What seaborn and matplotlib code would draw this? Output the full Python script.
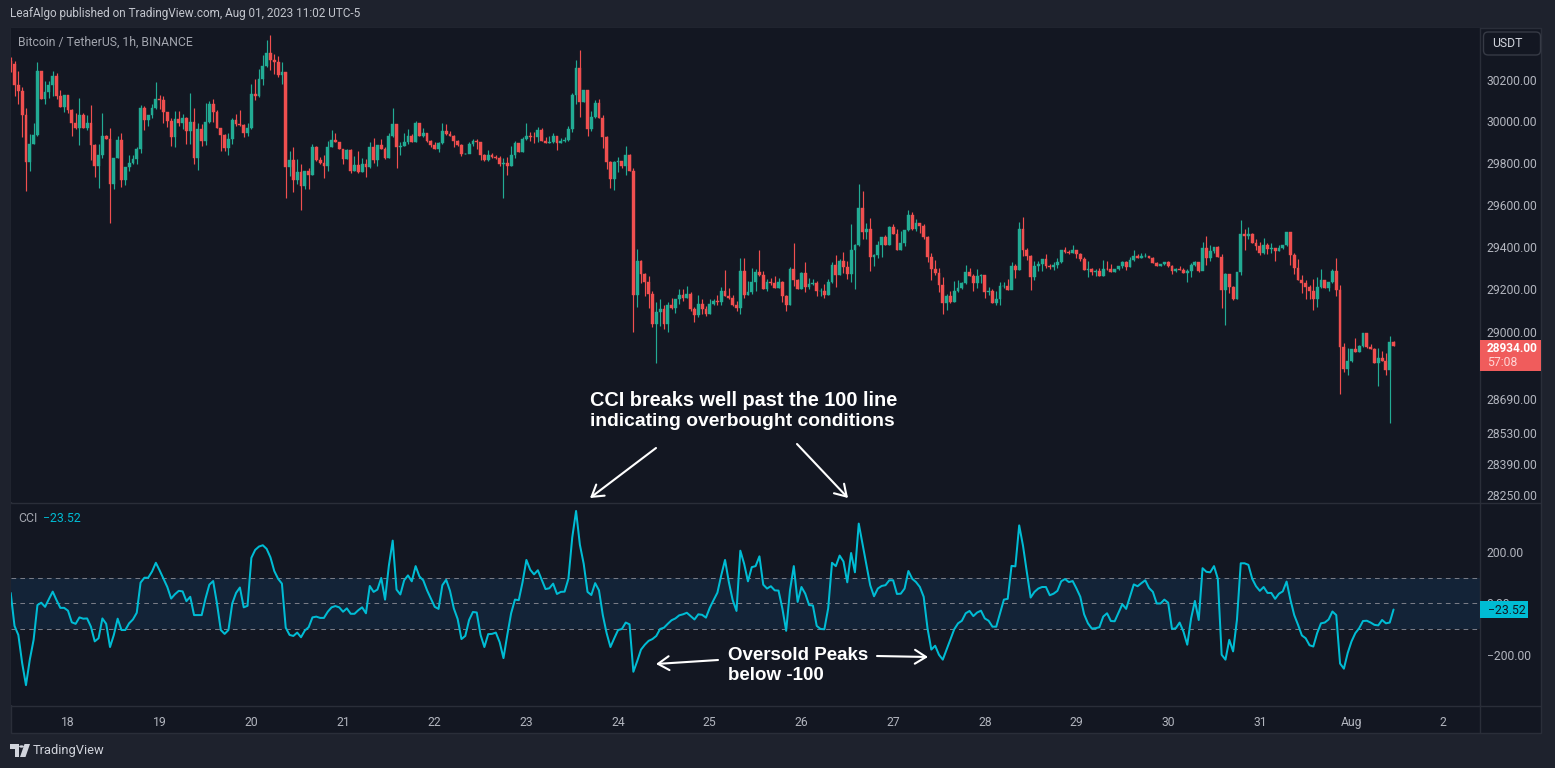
import numpy as np
import pandas as pd
import seaborn as sns
import matplotlib
matplotlib.use("Agg")
import matplotlib.pyplot as plt
from matplotlib.patches import Rectangle, FancyBboxPatch, Polygon, Circle
from matplotlib.ticker import NullLocator, FixedLocator, FixedFormatter

first_open = 30294
close = [30280,30174,30147,30029,29804,29890,29933,30246,30107,30143,30174,30222,30123,30071,30126,30053,29991,29967,30029,29967,
29994,29886,29785,29837,29927,29914,29697,29825,29910,29718,29782,29801,29820,29866,30063,30007,30029,30063,30107,30102,
30045,30002,29925,30010,29991,30018,29954,29999,29822,29962,29906,29999,30082,30045,29967,29935,29870,29914,30005,29986,
29984,29946,29967,30131,30123,30206,30270,30332,30296,30287,30224,30238,29780,29812,29718,29758,29689,29761,29742,29874,
29814,29798,29783,29878,29909,29901,29866,29817,29861,29761,29788,29756,29796,29780,29877,29812,29885,29866,29825,29927,
29986,29877,29882,29902,29927,29902,29991,29927,29943,29906,29885,29869,29894,29954,29938,29930,29906,29886,29841,29841,
29890,29906,29902,29838,29814,29838,29829,29825,29793,
29799,29785,29837,29895,29852,29914,29931,29926,29923,29956,29904,29895,29899,29928,29895,29904,29909,29961,30128,30257,
30095,30152,29961,30023,30090,30014,29923,29804,29723,29804,29809,29785,29837,29761,29175,29333,29271,29233,29180,29037,
29094,29109,29037,29128,29113,29152,29171,29161,29180,29109,29080,29133,29109,29085,29133,29147,29142,29194,29166,29161,
29128,29113,29285,29175,29185,29233,29280,29266,29199,29233,29228,29204,29233,29166,29128,29294,29242,29199,29275,29209,
29223,29228,29190,29194,29175,29233,29314,29266,29333,29304,29271,29385,29409,29585,29471,29485,29352,29361,29409,29447,
29409,29494,29461,29385,29418,29480,29552,29485,29514,29499,29447,29352,29294,29275,29218,29137,29166,29142,29190,29204,
29228,29280,29261,29228,29261,29266,29185,29194,29137,29156,29214,
29216,29198,29308,29291,29486,29385,29357,29257,29308,29318,29341,29308,29305,29315,29327,29383,29374,29369,29383,29365,
29341,29290,29294,29280,29288,29262,29294,29293,29280,29294,29308,29327,29304,29337,29355,29346,29355,29355,29346,29322,
29308,29318,29327,29308,29285,29296,29290,29276,29288,29313,29327,29285,29393,29346,29379,29397,29351,29196,29271,29210,
29154,29280,29463,29449,29463,29416,29402,29369,29411,29388,29393,29379,29393,29407,29472,29360,29299,29243,29229,29210,
29191,29154,29210,29243,29205,29234,29285,29196,28929,28826,28864,28920,28906,28934,28995,28929,28920,28854,28878,28864,
28822,28953,28934]
high = [30312,30291,30246,30166,30066,29938,29994,30288,30246,30195,30195,30243,30232,30152,30126,30126,30058,30042,30115,30042,
30029,30078,29890,29890,30039,29933,29970,29825,29930,29946,29782,29837,29837,29874,30078,30074,30029,30082,30192,30126,
30123,30047,30018,30050,30050,30034,30023,30135,30063,29994,29986,30087,30098,30107,30055,29970,29938,29946,30018,30034,
30053,29989,29994,30182,30203,30254,30323,30396,30420,30328,30315,30288,30238,29857,29874,29817,29796,29761,29777,29893,
29882,29829,29837,29906,29957,29946,29902,29869,29866,29866,29833,29857,29825,29817,29902,29919,29885,29914,29874,29943,
30066,29986,29898,29946,29962,29938,30002,29991,29970,29943,29909,29898,29898,29994,29986,29954,29933,29909,29890,29849,
29898,29917,29914,29902,29841,29862,29846,29837,29833,
29823,29828,29883,29903,29895,29926,29990,29947,29947,29971,29966,29922,29931,29942,29931,29918,29923,29979,30137,30299,
30347,30152,30152,30052,30104,30109,30030,29928,29809,29809,29828,29809,29880,29842,29775,29390,29337,29275,29261,29193,
29142,29156,29128,29142,29161,29156,29199,29199,29214,29185,29118,29175,29152,29123,29152,29152,29171,29209,29290,29204,
29171,29147,29347,29347,29237,29299,29295,29385,29285,29247,29252,29261,29252,29237,29175,29304,29418,29247,29280,29328,
29252,29247,29237,29204,29223,29247,29328,29361,29342,29375,29333,29509,29414,29699,29666,29514,29537,29366,29428,29447,
29456,29499,29509,29485,29475,29480,29575,29566,29533,29514,29509,29452,29371,29337,29299,29256,29180,29194,29237,29242,
29233,29314,29299,29271,29295,29271,29266,29209,29199,29190,29235,
29232,29248,29326,29318,29519,29541,29396,29360,29332,29332,29341,29365,29318,29326,29346,29383,29397,29383,29407,29383,
29372,29351,29332,29299,29294,29299,29337,29332,29318,29294,29308,29332,29333,29354,29383,29365,29369,29369,29355,29351,
29327,29318,29327,29332,29313,29302,29310,29302,29294,29322,29332,29327,29425,29449,29407,29397,29402,29365,29276,29271,
29215,29280,29528,29486,29496,29466,29435,29421,29444,29419,29416,29393,29411,29407,29472,29472,29369,29341,29266,29243,
29220,29248,29257,29294,29243,29234,29294,29346,29220,28948,28925,28920,28971,28939,28995,28995,28943,28925,28925,28911,
28901,28981,28957]
low = [30238,30123,30082,29925,29665,29761,29890,29930,30107,30082,30115,30123,30107,30071,30045,30042,29930,29962,29886,29967,
29957,29814,29732,29681,29825,29914,29512,29676,29825,29685,29692,29761,29793,29793,29849,29959,29978,30018,30058,30058,
29994,29973,29882,29874,29978,29962,29890,29890,29796,29766,29882,29885,29994,29997,29967,29857,29857,29837,29890,29978,
29978,29922,29930,29962,30102,30119,30176,30264,30251,30227,30214,30179,29632,29737,29660,29697,29573,29676,29673,29742,
29809,29793,29729,29761,29877,29898,29866,29793,29817,29753,29761,29753,29756,29732,29777,29801,29785,29866,29817,29825,
29922,29777,29837,29882,29890,29902,29902,29927,29922,29902,29874,29866,29853,29890,29933,29927,29878,29882,29833,29841,
29846,29882,29866,29814,29809,29809,29821,29817,29785,
29633,29744,29785,29823,29852,29852,29909,29906,29895,29899,29904,29895,29895,29895,29863,29895,29899,29904,29947,30085,
30023,30095,29928,29953,30018,30014,29871,29771,29680,29671,29756,29776,29742,29761,28999,29118,29228,29166,29113,29023,
28856,29028,29013,28999,29109,29090,29133,29147,29161,29099,29047,29071,29085,29075,29085,29128,29128,29128,29166,29152,
29123,29099,29085,29161,29171,29180,29190,29261,29199,29190,29218,29204,29204,29142,29099,29128,29214,29199,29199,29185,
29199,29218,29166,29166,29161,29171,29228,29209,29266,29275,29247,29233,29199,29404,29437,29437,29285,29309,29347,29352,
29409,29409,29461,29385,29385,29404,29475,29480,29475,29466,29437,29328,29242,29266,29185,29085,29104,29137,29142,29185,
29199,29223,29261,29190,29204,29228,29161,29171,29137,29128,29126,
29205,29198,29201,29252,29291,29357,29338,29198,29243,29287,29287,29302,29294,29290,29299,29322,29369,29365,29369,29346,
29332,29290,29257,29266,29262,29262,29262,29290,29280,29280,29290,29299,29290,29304,29332,29346,29346,29351,29346,29322,
29308,29308,29313,29304,29271,29282,29290,29276,29234,29257,29308,29280,29313,29313,29332,29369,29351,29112,29032,29182,
29149,29154,29266,29385,29435,29416,29385,29360,29365,29365,29369,29332,29379,29388,29402,29313,29271,29243,29182,29154,
29154,29103,29117,29205,29205,29191,29229,29168,28714,28812,28798,28859,28906,28906,28929,28925,28920,28854,28751,28864,
28798,28578,28934]
cci = [41,-87,-122,-231,-317,-218,-141,-6,3,-13,17,46,13,-17,-17,-28,-73,-79,-54,-59,
-58,-90,-147,-135,-58,-79,-169,-122,-59,-103,-103,-77,-62,-36,81,100,100,124,158,128,
96,64,19,36,49,47,9,26,-45,-45,-45,19,73,87,0,-103,-118,-103,0,41,
62,-15,-9,177,208,221,226,212,179,126,96,77,-94,-122,-126,-113,-131,-105,-92,-54,
-51,-56,-56,-32,-15,-10,-15,-32,-19,-40,-40,-26,-15,-38,68,45,54,99,15,147,
244,54,35,90,109,86,145,105,90,51,19,-13,-21,71,92,49,-19,-60,-138,-126,
-64,-33,-35,-122,-169,-119,-118,-113,-150,
-212,-122,-38,15,13,83,169,131,113,129,92,56,59,77,37,45,46,96,256,359,
228,154,45,33,79,51,-45,-115,-169,-135,-103,-99,-74,-81,-265,-224,-179,-160,-145,-138,
-126,-99,-94,-79,-65,-58,-46,-42,-36,-49,-62,-42,-44,-55,-17,13,42,109,169,83,
13,-29,205,154,86,141,145,183,73,58,67,51,50,-19,-106,51,145,6,64,38,
-6,-8,-87,-99,-100,-19,158,145,186,163,82,196,121,310,231,154,71,28,58,68,
71,90,90,37,38,58,126,96,83,64,26,-96,-179,-164,-199,-218,-179,-141,-100,-77,
-67,-38,-29,-49,-35,-28,-58,-67,-90,-90,-38,
15,18,146,144,303,224,122,23,45,58,64,64,32,38,49,86,95,83,87,58,
26,-42,-77,-97,-96,-92,-51,-38,-68,-69,-36,-3,-21,26,74,67,79,90,60,45,
0,0,15,3,-99,-96,-74,-109,-160,-58,10,-64,137,123,121,145,96,-199,-218,-141,
-186,-64,156,156,150,96,67,49,64,41,41,18,38,47,85,15,-45,-83,-124,-135,
-162,-167,-115,-77,-74,-62,-31,-45,-233,-253,-192,-147,-115,-96,-68,-67,-74,-83,-85,-64,
-77,-74,-23.52]
price_ticks = [30200,30000,29800,29600,29400,29200,29000,28690,28530,28390,28250]
cci_ticks = [200,0,-200]
cci_tick_labels = ["200.00","0.00","\u2212200.00"]
day_ticks = [15+24*k for k in range(16)]
day_labels = ["18","19","20","21","22","23","24","25","26","27","28","29","30","31","Aug","2"]

W, H = 1555, 768
BG, PANE = "#1e222d", "#131722"
GRID, TXT = "#2a2e39", "#b2b5be"
UP, DOWN = "#22ab94", "#f04f4f"
CYAN = "#00bcd4"
FONT = "Roboto"

sns.set_theme(style="dark", rc={"figure.facecolor":BG,"axes.facecolor":PANE,"font.family":FONT,
                                "text.color":TXT,"xtick.color":TXT,"ytick.color":TXT})
fig = plt.figure(figsize=(W/100,H/100), dpi=100)

def axbox(x0,y0,x1,y1):
    return [x0/W, 1-y1/H, (x1-x0)/W, (y1-y0)/H]
def fx(x): return x/W
def fy(y): return 1-y/H

ax = fig.add_axes(axbox(11,28,1479.5,502))
ax2 = fig.add_axes(axbox(11,503,1479.5,705), sharex=ax)
fig.add_artist(Rectangle((fx(11),fy(733)),(1541-11)/W,(733-28)/H,transform=fig.transFigure,
                         facecolor=PANE,edgecolor=GRID,lw=1,zorder=-5))

idx = np.arange(len(close))
c = np.array(close,float); hi = np.array(high,float); lo = np.array(low,float)
o = np.r_[first_open, c[:-1]]
colors = np.where(c>=o, UP, DOWN)
ax.vlines(idx, lo, hi, colors=colors, lw=0.85, zorder=2)
ax.bar(idx, np.abs(c-o), bottom=np.minimum(c,o), width=0.74, color=colors, edgecolor=colors, lw=0.3, zorder=3)
ax.set_yscale("log")
ax.set_ylim(28217,30454)
ax.set_xlim(0.08,384.5)
ax.yaxis.tick_right()
ax.yaxis.set_major_locator(FixedLocator(price_ticks))
ax.yaxis.set_major_formatter(FixedFormatter([f"{t:.2f}" for t in price_ticks]))
ax.yaxis.set_minor_locator(NullLocator())
ax.tick_params(axis="y", length=0, pad=5.3, labelsize=8.7, labelcolor=TXT)
ax.tick_params(axis="x", length=0, labelbottom=False)
ax.grid(False)

ax2.axhspan(-100,100,color="#132337",lw=0,zorder=1)
for lv in (100,0,-100):
    ax2.axhline(lv,color="#787b86",lw=0.75,dashes=(4.5,4),zorder=2)
df = pd.DataFrame({"bar":np.arange(len(cci)),"cci":cci})
sns.lineplot(data=df,x="bar",y="cci",color=CYAN,lw=1.45,estimator=None,ax=ax2,zorder=4,legend=False)
ax2.set_ylim(-394,390)
ax2.set_xlabel(""); ax2.set_ylabel("")
ax2.yaxis.tick_right()
ax2.set_yticks(cci_ticks); ax2.set_yticklabels(cci_tick_labels)
ax2.set_xticks(day_ticks); ax2.set_xticklabels(day_labels)
ax2.tick_params(axis="y", length=0, pad=5.3, labelsize=8.7, labelcolor=TXT)
ax2.tick_params(axis="x", length=0, pad=8, labelsize=8.7, labelcolor=TXT)
ax2.grid(False)
ax2.set_xlim(0.08,384.5)
for a in (ax,ax2):
    for s in a.spines.values(): s.set_visible(False)
    a.spines["right"].set_visible(True); a.spines["right"].set_color(GRID); a.spines["right"].set_linewidth(1)

def line(x0,y0,x1,y1,col=GRID,lw=1):
    fig.add_artist(plt.Line2D([fx(x0),fx(x1)],[fy(y0),fy(y1)],color=col,lw=lw,zorder=5))
line(11,502.5,1541,502.5); line(11,705.5,1541,705.5); line(1479.5,705,1479.5,733)

def t(x,y,s,size=8.8,color=TXT,weight="normal",ha="left",family=FONT):
    fig.text(fx(x),fy(y),s,fontsize=size,color=color,weight=weight,ha=ha,va="center",family=family,zorder=8)

t(10,14,"LeafAlgo published on TradingView.com, Aug 01, 2023 11:02 UTC-5",color="#c3c6ce",size=8.45)
t(18,42,"Bitcoin / TetherUS, 1h, BINANCE",color="#a3a6af",size=8.8)
t(18,518,"CCI",color="#a3a6af"); t(43,518,"\u221223.52",color=CYAN)
t(1492,43.5,"USDT",color="#d1d4dc",size=8.8)
fig.add_artist(FancyBboxPatch((fx(1483.5),fy(55)),57/W,23/H,boxstyle="round,pad=0,rounding_size=0.003",
                              transform=fig.transFigure,fc=PANE,ec="#363a45",lw=1,mutation_aspect=2,zorder=6))
fig.add_artist(Rectangle((fx(1480),fy(371)),61/W,31/H,transform=fig.transFigure,fc="#f05c5c",ec="none",zorder=7))
t(1487,348,"28934.00",color="white",weight="bold",size=8.6); t(1487,362,"57:08",color="#ffd6d6")
fig.add_artist(Rectangle((fx(1480),fy(618)),48/W,17/H,transform=fig.transFigure,fc=CYAN,ec="none",zorder=7))
t(1488,610,"\u221223.52",color=PANE)

AN = "Liberation Sans"
t(590,400.5,"CCI breaks well past the 100 line",size=14.3,color="white",weight="bold",family=AN)
t(590,421.5,"indicating overbought conditions",size=13.9,color="white",weight="bold",family=AN)
t(728,656,"Oversold Peaks",size=13.5,color="white",weight="bold",family=AN)
t(728,676,"below -100",size=13.5,color="white",weight="bold",family=AN)
def arrow(x0,y0,x1,y1):
    fig.add_artist(matplotlib.patches.FancyArrowPatch((fx(x0),fy(y0)),(fx(x1),fy(y1)),transform=fig.transFigure,
        arrowstyle="->,head_length=8,head_width=5",color="white",lw=1.5,shrinkA=0,shrinkB=0,zorder=8))
arrow(656,448,590,498); arrow(797,444,848,498); arrow(718,660,656,664); arrow(877,656,928,657)

# TradingView wordmark
fig.add_artist(Polygon([(fx(10),fy(744)),(fx(19),fy(744)),(fx(19),fy(757)),(fx(15),fy(757)),(fx(15),fy(749)),(fx(10),fy(749))],
                       transform=fig.transFigure,fc="#d1d4dc",ec="none",zorder=8))
fig.add_artist(Circle((fx(21.5),fy(746.5)),2.4/W,transform=fig.transFigure,fc="#d1d4dc",ec="none",zorder=8))
fig.add_artist(Polygon([(fx(24.5),fy(744)),(fx(30),fy(744)),(fx(25.5),fy(757)),(fx(20),fy(757))],
                       transform=fig.transFigure,fc="#d1d4dc",ec="none",zorder=8))
t(33,750.5,"TradingView",size=9.3,color="#d1d4dc")

fig.savefig("out.png",dpi=100,facecolor=BG)
